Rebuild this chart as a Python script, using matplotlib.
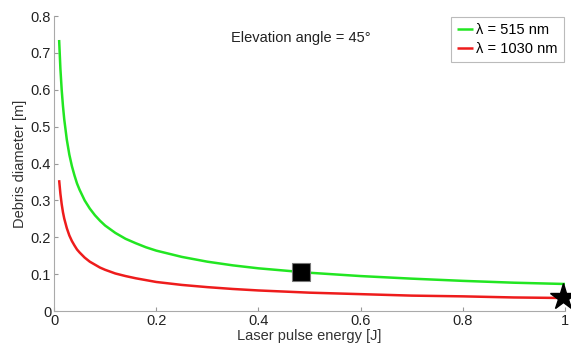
import matplotlib
matplotlib.use("Agg")
from matplotlib import pyplot as plt

# - Data

energy = [0.01, 0.0125, 0.015, 0.0175, 0.02, 0.025, 0.03, 0.035, 0.04, 0.045, 0.05, 0.06, 0.07,
          0.08, 0.09, 0.1, 0.12, 0.14, 0.16, 0.18, 0.2, 0.25, 0.3, 0.35, 0.4, 0.5, 0.6, 0.7,
          0.8, 0.9, 1.0]
diam_515 = [0.735, 0.657, 0.600, 0.556, 0.520, 0.465, 0.424, 0.393, 0.368, 0.346, 0.329, 0.300,
            0.278, 0.260, 0.245, 0.232, 0.212, 0.196, 0.184, 0.173, 0.164, 0.147, 0.134, 0.124,
            0.116, 0.104, 0.095, 0.088, 0.082, 0.077, 0.0735]
diam_1030 = [0.355, 0.318, 0.290, 0.268, 0.251, 0.225, 0.205, 0.190, 0.178, 0.167, 0.159, 0.145,
             0.134, 0.126, 0.118, 0.112, 0.102, 0.095, 0.089, 0.084, 0.079, 0.071, 0.065, 0.060,
             0.056, 0.050, 0.046, 0.042, 0.040, 0.037, 0.0355]

square_pt = (0.483, 0.106)
star_pt = (0.995, 0.039)

x_ticks = [0, 0.2, 0.4, 0.6, 0.8, 1]
x_labels = ["0", "0.2", "0.4", "0.6", "0.8", "1"]
y_ticks = [0, 0.1, 0.2, 0.3, 0.4, 0.5, 0.6, 0.7, 0.8]
y_labels = ["0", "0.1", "0.2", "0.3", "0.4", "0.5", "0.6", "0.7", "0.8"]

# - Plot

plt.rcParams["font.family"] = ["Liberation Sans", "DejaVu Sans"]
plt.rcParams["font.size"] = 10.5

fig = plt.figure(figsize=(5.71, 3.48), dpi=100)
ax = fig.add_axes([0.0946, 0.106, 0.895, 0.848])

ax.plot(energy, diam_515, color="#22e622", lw=1.8, label="λ = 515 nm", solid_capstyle="butt")
ax.plot(energy, diam_1030, color="#ee1c1c", lw=1.8, label="λ = 1030 nm", solid_capstyle="butt")

ax.plot(*square_pt, marker="s", ms=13.5, color="black", mec="#777777", mew=0.8, clip_on=False)
ax.plot(*star_pt, marker="*", ms=20, color="black", clip_on=False)

ax.text(0.483, 0.74, "Elevation angle = 45°", ha="center", va="center", color="#222222")

ax.set_xlim(0, 1)
ax.set_ylim(0, 0.8)
ax.set_xticks(x_ticks, x_labels)
ax.set_yticks(y_ticks, y_labels)
ax.tick_params(direction="in", length=3, color="#999999", labelcolor="#222222", pad=2)
for side in ("top", "right"):
    ax.spines[side].set_visible(False)
for side in ("left", "bottom"):
    ax.spines[side].set_color("#aaaaaa")

ax.set_xlabel("Laser pulse energy [J]", color="#333333", labelpad=1)
ax.set_ylabel("Debris diameter [m]", color="#333333", labelpad=3)

leg = ax.legend(loc="upper right", bbox_to_anchor=(1.0, 1.0), fancybox=False, handlelength=1.1,
                handletextpad=0.2, borderpad=0.4, labelspacing=0.35, borderaxespad=0.1)
leg.get_frame().set_edgecolor("#aaaaaa")
leg.get_frame().set_linewidth(0.8)

fig.savefig("out.png", dpi=100)
